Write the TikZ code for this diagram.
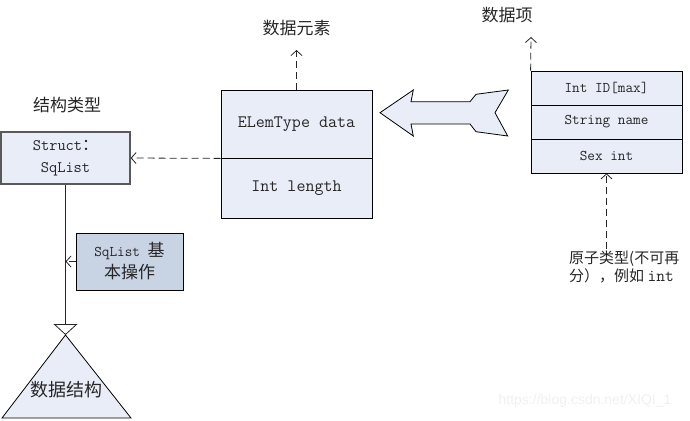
\documentclass[tikz,border=0pt]{standalone}
\usepackage{fontspec}
\newfontfamily\cjk{Noto Sans CJK SC}
\newfontfamily\wmfont{Liberation Sans}
\usetikzlibrary{arrows.meta}
\definecolor{boxfill}{HTML}{E8EDF7}
\definecolor{opfill}{HTML}{C8D4E4}
\definecolor{txt}{HTML}{262626}
\begin{document}
\begin{tikzpicture}[x=1pt,y=-1pt,
  box/.style={draw=black, fill=boxfill, line width=0.8pt, inner sep=0pt, align=center, text=txt},
  title/.style={font=\cjk\fontsize{17}{20}\selectfont, inner sep=0pt, text=txt},
  dasharrow/.style={draw=black!85, dash pattern=on 7pt off 4pt, line width=0.8pt,
     -{Straight Barb[length=5pt,width=11pt]}},
  solidline/.style={draw=black!85, line width=0.8pt}]
\useasboundingbox (0,0) rectangle (690,420);

% titles
\node[title] (t1) at (67,105) {结构类型};
\node[title] (t2) at (296.5,28) {数据元素};
\node[title] (t3) at (507,15) {数据项};

% struct box
\node[box, draw=black!65, line width=1.2pt, minimum width=129pt, minimum height=52pt,
  font=\ttfamily\fontsize{16}{22}\selectfont] (struct) at (65.5,158) {Struct{\cjk ：}\\SqList};

% element box
\node[box, minimum width=151pt, minimum height=68pt, font=\ttfamily\fontsize{17.5}{18}\selectfont]
  (elemA) at (296.5,124) {ELemType data};
\node[box, minimum width=151pt, minimum height=60pt, font=\ttfamily\fontsize{17.5}{18}\selectfont]
  (elemB) at (296.5,188) {Int length};

% data item box
\node[box, minimum width=151pt, minimum height=34pt, font=\ttfamily\fontsize{14.8}{16}\selectfont]
  (it1) at (606.5,88) {Int ID[max]};
\node[box, minimum width=151pt, minimum height=34pt, font=\ttfamily\fontsize{14.8}{16}\selectfont]
  (it2) at (606.5,122) {String name};
\node[box, minimum width=151pt, minimum height=34pt, font=\ttfamily\fontsize{14.8}{16}\selectfont]
  (it3) at (606.5,156) {Sex int};

% operations box
\node[box, fill=opfill, minimum width=107pt, minimum height=57pt,
  font=\ttfamily\fontsize{14.8}{22}\selectfont] (op) at (129.5,261.5)
  {SqList {\cjk\fontsize{17}{22}\selectfont 基}\\{\cjk\fontsize{17}{22}\selectfont 本操作}};

% big arrow
\draw[fill=boxfill, line width=0.8pt] (380,112.7) -- (413.3,90) -- (411,101.7) -- (470,101.7)
  -- (476,94.3) -- (508.3,90) -- (495,112.7) -- (507.7,136) -- (476,131.7) -- (470,124)
  -- (411,124) -- (413.3,136) -- cycle;

% triangle
\coordinate (apex) at (65.5,335);
\coordinate (bl) at (2,418);
\coordinate (br) at (131,418);
\draw[fill=boxfill, line width=0.8pt] (apex) -- (bl) -- (br) -- cycle;
\node[title, font=\cjk\fontsize{18}{20}\selectfont] (ds) at (66,390) {数据结构};

% atomic label
\node[anchor=north west, align=left, inner sep=0pt, text=txt, font=\cjk\fontsize{15}{18}\selectfont]
  (atom) at (569,251) {原子类型(不可再\\分），例如 {\ttfamily\fontsize{17}{18}\selectfont int}};

% connectors
\coordinate (t2e) at (296.5,50);
\coordinate (t3e) at (531,37);
\coordinate (atomtop) at (606.5,249);
\draw[dasharrow] (elemA.north) -- (t2e);
\draw[dasharrow] (it1.north west) -- (t3e);
\draw[dasharrow] (elemA.south west) -- (struct.east);
\draw[dasharrow] (atomtop) -- (it3.south);
\draw[solidline, -{Triangle[open,length=11pt,width=24pt]}] (struct.south) -- (apex);
\draw[dasharrow] (op.west) -- (op.west -| apex);

% watermark
\node[text=black!6, font=\wmfont\fontsize{14}{16}\selectfont, inner sep=0pt] (wm) at (585,401)
  {https://blog.csdn.net/XIQI\_1};
\end{tikzpicture}
\end{document}
